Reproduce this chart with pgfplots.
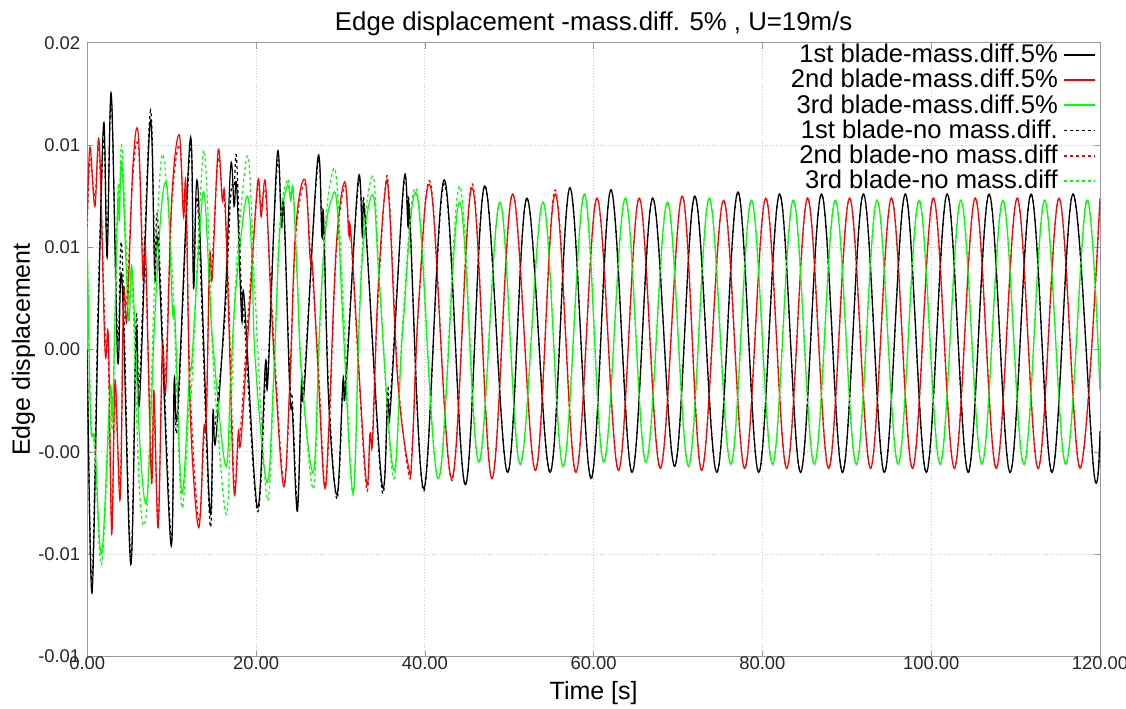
\documentclass[border=0pt]{standalone}
\usepackage{fontspec}
\setmainfont{Liberation Sans}
\usepackage{pgfplots}
\usepackage{pgfplotstable}
\pgfplotsset{compat=1.18}
\definecolor{bred}{RGB}{255,0,0}
\definecolor{bgreen}{RGB}{0,255,0}

% blade 1: t, with mass diff (y), no mass diff (yd)
\pgfplotstableread{
t y yd
0.00 0.0025 0.0020
0.55 -0.0094 -0.0088
1.30 0.0040 0.0050
1.95 0.0136 0.0128
2.35 0.0070 0.0080
2.85 0.0150 0.0147
3.60 0.0020 0.0030
4.10 0.0060 0.0075
5.15 -0.0080 -0.0076
5.80 0.0034 0.0040
6.20 0.0000 0.0010
7.45 0.0136 0.0141
8.00 0.0060 0.0070
8.40 0.0075 0.0085
9.90 -0.0070 -0.0066
10.30 0.0010 0.0000
10.70 -0.0005 -0.0010
12.20 0.0128 0.0124
12.60 0.0055 0.0065
13.10 0.0105 0.0095
14.50 -0.0052 -0.0058
14.90 -0.0005 -0.0015
15.20 -0.0020 -0.0010
16.30 0.0046 0.0040
17.00 0.0115 0.0100
17.40 0.0095 0.0105
17.70 0.0105 0.0118
18.30 0.0040 0.0050
18.60 0.0050 0.0040
20.15 -0.0052 -0.0054
21.10 0.0018 0.0010
21.40 0.0010 0.0015
22.50 0.0120 0.0115
23.00 0.0085 0.0090
23.30 0.0095 0.0092
24.00 0.0004 0.0010
24.30 -0.0005 0.0000
24.90 -0.0054 -0.0050
25.40 0.0010 0.0005
25.70 0.0005 0.0010
27.30 0.0118 0.0115
27.80 0.0080 0.0085
28.00 0.0090 0.0088
28.60 0.0000 0.0005
29.60 -0.0046 -0.0048
30.30 0.0010 0.0008
30.60 0.0005 0.0010
32.10 0.0108 0.0105
32.60 0.0080 0.0085
32.90 0.0090 0.0092
34.90 -0.0040 -0.0043
35.60 0.0000 0.0005
35.90 -0.0005 0.0000
37.50 0.0107 0.0105
38.00 0.0085 0.0088
38.20 0.0090 0.0092
39.90 -0.0043 -0.0044
42.30 0.0108 0.0106
44.80 -0.0041 -0.0041
47.10 0.0105 0.0105
49.80 -0.0035 -0.0035
52.10 0.0099 0.0099
54.85 -0.0035 -0.0035
57.20 0.0104 0.0104
59.70 -0.0038 -0.0038
62.05 0.0103 0.0103
64.55 -0.0035 -0.0035
67.00 0.0099 0.0099
69.60 -0.0032 -0.0032
72.00 0.0100 0.0100
74.60 -0.0035 -0.0035
77.10 0.0102 0.0102
79.56 -0.0035 -0.0035
82.04 0.0101 0.0101
84.52 -0.0035 -0.0035
87.00 0.0101 0.0101
89.49 -0.0035 -0.0035
91.97 0.0101 0.0101
94.45 -0.0035 -0.0035
96.93 0.0101 0.0101
99.42 -0.0035 -0.0035
101.90 0.0101 0.0101
104.38 -0.0035 -0.0035
106.86 0.0101 0.0101
109.35 -0.0035 -0.0035
111.83 0.0101 0.0101
114.31 -0.0035 -0.0035
116.80 0.0101 0.0101
119.28 -0.0035 -0.0035
120.00 -0.0015 -0.0015
}\bladeone

% blade 2
\pgfplotstableread{
t y yd
0.00 0.0090 0.0085
0.32 0.0124 0.0118
0.90 0.0095 0.0100
1.42 0.0126 0.0122
2.10 0.0025 0.0035
2.50 0.0031 0.0020
2.90 -0.0065 -0.0060
3.30 0.0010 0.0000
3.90 -0.0048 -0.0040
4.30 0.0052 0.0045
4.70 0.0040 0.0050
5.40 0.0114 0.0110
6.05 0.0130 0.0124
6.60 0.0060 0.0070
6.90 0.0075 0.0065
7.60 -0.0039 -0.0030
7.90 0.0005 -0.0005
8.40 -0.0062 -0.0058
8.90 0.0026 0.0020
9.30 0.0005 0.0015
10.00 0.0098 0.0095
10.90 0.0130 0.0125
11.40 0.0090 0.0095
11.70 0.0104 0.0098
12.20 -0.0006 0.0005
13.20 -0.0062 -0.0058
13.80 -0.0014 -0.0020
14.10 -0.0010 -0.0005
14.50 0.0070 0.0065
14.80 0.0060 0.0068
15.50 0.0122 0.0118
16.00 0.0098 0.0100
16.30 0.0100 0.0095
16.80 0.0035 0.0045
17.40 -0.0045 -0.0040
17.90 -0.0015 -0.0020
18.20 -0.0020 -0.0012
19.20 0.0043 0.0050
20.20 0.0107 0.0104
20.60 0.0090 0.0095
21.10 0.0107 0.0102
21.70 0.0055 0.0060
22.30 0.0010 0.0015
23.30 -0.0042 -0.0040
24.00 0.0009 0.0005
24.70 0.0084 0.0080
25.80 0.0108 0.0106
26.40 0.0070 0.0075
26.70 0.0065 0.0060
27.40 0.0010 0.0015
28.10 -0.0042 -0.0040
28.60 -0.0015 -0.0020
29.50 0.0075 0.0072
30.50 0.0107 0.0105
31.00 0.0081 0.0085
31.30 0.0078 0.0076
33.00 -0.0037 -0.0040
33.50 -0.0016 -0.0018
33.80 -0.0020 -0.0015
34.40 0.0050 0.0045
35.30 0.0103 0.0104
35.80 0.0095 0.0098
36.80 0.0009 0.0012
38.10 -0.0033 -0.0036
38.50 -0.0025 -0.0022
39.30 0.0050 0.0048
40.75 0.0103 0.0105
43.20 -0.0038 -0.0039
45.60 0.0104 0.0106
47.95 -0.0038 -0.0038
50.40 0.0101 0.0101
53.10 -0.0034 -0.0034
55.45 0.0101 0.0103
57.90 -0.0035 -0.0035
60.40 0.0099 0.0099
62.95 -0.0034 -0.0034
65.40 0.0099 0.0099
67.90 -0.0033 -0.0033
70.50 0.0100 0.0100
72.80 -0.0034 -0.0034
75.40 0.0098 0.0098
77.90 -0.0033 -0.0033
80.40 0.0099 0.0099
82.88 -0.0033 -0.0033
85.36 0.0099 0.0099
87.85 -0.0033 -0.0033
90.33 0.0099 0.0099
92.81 -0.0033 -0.0033
95.29 0.0099 0.0099
97.78 -0.0033 -0.0033
100.26 0.0099 0.0099
102.74 -0.0033 -0.0033
105.22 0.0099 0.0099
107.71 -0.0033 -0.0033
110.19 0.0099 0.0099
112.67 -0.0033 -0.0033
115.15 0.0099 0.0099
117.64 -0.0033 -0.0033
120.00 0.0099 0.0099
}\bladetwo

% blade 3
\pgfplotstableread{
t y yd
0.00 0.0080 0.0075
0.40 -0.0010 -0.0005
0.90 -0.0020 -0.0025
1.70 -0.0075 -0.0080
2.70 0.0005 0.0000
3.00 -0.0005 -0.0010
3.60 0.0095 0.0100
3.80 0.0088 0.0095
4.10 0.0116 0.0124
4.90 0.0040 0.0050
5.30 0.0065 0.0060
6.20 -0.0019 -0.0045
7.00 -0.0050 -0.0055
7.60 -0.0001 0.0010
8.00 0.0040 0.0060
8.80 0.0095 0.0119
9.50 0.0103 0.0100
10.10 0.0044 0.0060
10.40 0.0040 0.0030
11.20 -0.0045 -0.0052
12.10 0.0012 0.0000
12.40 0.0020 0.0010
13.40 0.0087 0.0100
13.90 0.0100 0.0121
14.50 0.0054 0.0070
14.90 0.0027 0.0020
16.40 -0.0032 -0.0055
17.00 0.0012 -0.0010
17.60 0.0054 0.0060
18.90 0.0100 0.0119
19.50 0.0070 0.0090
19.90 0.0020 0.0050
21.30 -0.0040 -0.0048
22.10 0.0013 0.0010
22.80 0.0082 0.0085
23.70 0.0105 0.0108
24.10 0.0098 0.0100
24.40 0.0103 0.0102
24.90 0.0058 0.0058
25.40 0.0012 0.0015
26.80 -0.0035 -0.0043
27.50 0.0034 0.0030
28.20 0.0082 0.0085
29.00 0.0099 0.0111
29.60 0.0095 0.0105
30.40 0.0030 0.0040
31.50 -0.0045 -0.0046
32.20 0.0036 0.0040
32.80 0.0080 0.0085
33.90 0.0100 0.0109
34.60 0.0058 0.0060
36.30 -0.0034 -0.0038
37.40 0.0036 0.0040
39.10 0.0100 0.0102
41.60 -0.0038 -0.0038
44.10 0.0097 0.0105
46.40 -0.0030 -0.0030
48.90 0.0097 0.0097
51.30 -0.0031 -0.0031
54.00 0.0097 0.0097
56.40 -0.0032 -0.0032
58.90 0.0101 0.0101
61.20 -0.0030 -0.0030
63.75 0.0099 0.0099
66.20 -0.0030 -0.0030
68.75 0.0097 0.0097
71.25 -0.0032 -0.0032
73.70 0.0099 0.0099
76.25 -0.0031 -0.0031
78.70 0.0098 0.0098
81.20 -0.0031 -0.0031
83.66 0.0098 0.0098
86.15 -0.0031 -0.0031
88.63 0.0098 0.0098
91.12 -0.0031 -0.0031
93.59 0.0098 0.0098
96.08 -0.0031 -0.0031
98.56 0.0098 0.0098
101.05 -0.0031 -0.0031
103.52 0.0098 0.0098
106.01 -0.0031 -0.0031
108.49 0.0098 0.0098
110.98 -0.0031 -0.0031
113.45 0.0098 0.0098
115.94 -0.0031 -0.0031
118.42 0.0098 0.0098
120.00 0.0005 0.0005
}\bladethree

\begin{document}
\begin{tikzpicture}
\begin{axis}[
    name=ax,
    width=506.5pt, height=307pt, scale only axis,
    xmin=0, xmax=120, ymin=-0.0125, ymax=0.0175,
    xtick={0,20,40,60,80,100,120},
    xticklabels={0.00,20.00,40.00,60.00,80.00,100.00,120.00},
    ytick={-0.0125,-0.0075,-0.0025,0.0025,0.0075,0.0125,0.0175},
    yticklabels={-0.01,-0.01,-0.00,0.00,0.01,0.01,0.02},
    scaled y ticks=false, scaled x ticks=false,
    tick label style={font=\fontsize{9.2}{10}\selectfont, text=black!85},
    xticklabel style={anchor=base, yshift=-6.4pt},
    major tick length=3pt,
    tick style={gray!80},
    axis line style={gray!80},
    grid=major, grid style={densely dotted, gray!45},
    every axis title/.style={at={(0.5,1)}, anchor=base, yshift=6pt,
      font=\fontsize{12.9}{15}\selectfont},
    title={Edge displacement -mass.diff. 5\% , U=19m/s},
    every axis x label/.style={at={(0.5,0)}, anchor=base, yshift=-21.65pt,
      font=\fontsize{12.5}{15}\selectfont},
    xlabel={Time [s]},
    every axis y label/.style={at={(axis description cs:-0.0566,0.5)}, rotate=90,
      anchor=base, font=\fontsize{12.5}{15}\selectfont},
    ylabel={Edge displacement},
    legend style={draw=none, fill=none, at={(1,1)}, anchor=north east,
      xshift=-2pt, yshift=-0.5pt, inner sep=0pt, row sep=1.85pt, column sep=2.5pt,
      font=\fontsize{12.8}{13}\selectfont,
      nodes={inner ysep=0pt, inner xsep=0pt}},
    legend cell align=right, legend plot pos=right,
    legend image code/.code={\draw[#1, line width=0.9pt] (0pt,0pt) -- (15.5pt,0pt);},
    smooth, tension=0.6,
]
\addplot[black, line width=0.6pt] table[x=t, y=y] {\bladeone};
\addlegendentry{1st blade-mass.diff.5\%}
\addplot[bred, line width=0.6pt] table[x=t, y=y] {\bladetwo};
\addlegendentry{2nd blade-mass.diff.5\%}
\addplot[bgreen, line width=0.6pt] table[x=t, y=y] {\bladethree};
\addlegendentry{3rd blade-mass.diff.5\%}
\addplot[black, line width=0.6pt, dash pattern=on 1.5pt off 1.5pt] table[x=t, y=yd] {\bladeone};
\addlegendentry{1st blade-no mass.diff.}
\addplot[bred, line width=0.6pt, dash pattern=on 1.5pt off 1.5pt] table[x=t, y=yd] {\bladetwo};
\addlegendentry{2nd blade-no mass.diff}
\addplot[bgreen, line width=0.6pt, dash pattern=on 1.5pt off 1.5pt] table[x=t, y=yd] {\bladethree};
\addlegendentry{3rd blade-no mass.diff}
\end{axis}
\pgfresetboundingbox
\path[use as bounding box] ([shift={(-43.65pt,-26.15pt)}]ax.south west)
  rectangle ([shift={(13pt,21.35pt)}]ax.north east);
\end{tikzpicture}
\end{document}
